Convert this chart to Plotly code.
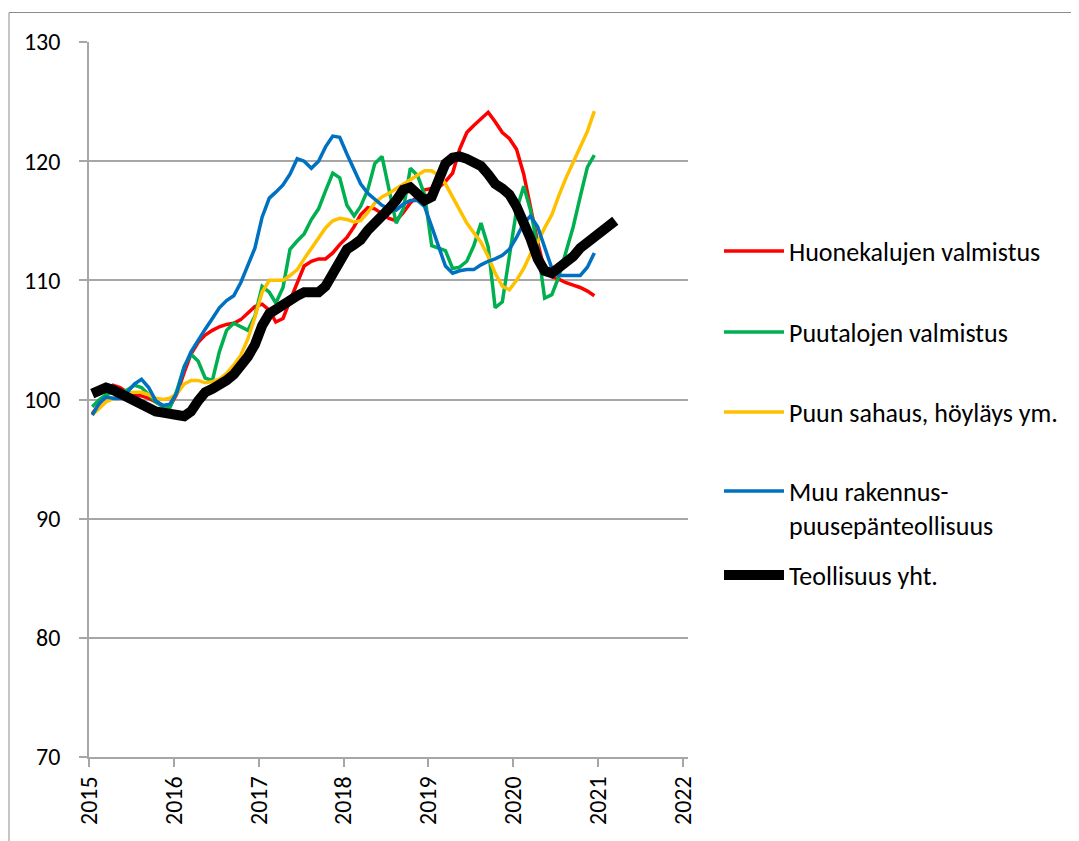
import plotly.graph_objects as go

# x categories: monthly observations (mid-month), Jan 2015 ... Mar 2021
months = [f"{2015 + i // 12}-{i % 12 + 1:02d}-15" for i in range(75)]

year_ticks = ["2015", "2016", "2017", "2018", "2019", "2020", "2021", "2022"]

huonekalut = [98.8, 99.7, 100.4, 101.2, 101.0, 100.6, 100.4, 100.3, 100.1, 99.8, 99.5, 99.4,
              100.5, 102.3, 103.8, 104.8, 105.4, 105.8, 106.1, 106.3, 106.4, 106.7, 107.3, 107.8,
              108.0, 107.5, 106.5, 106.8, 108.3, 109.7, 111.2, 111.6, 111.8, 111.8, 112.3, 113.0,
              113.6, 114.5, 115.5, 116.1, 116.0, 115.6, 115.2, 115.0, 115.7, 116.5, 117.1, 117.6,
              117.7, 117.8, 118.3, 119.0, 121.0, 122.4, 123.0, 123.6, 124.1, 123.3, 122.4, 121.9,
              121.0, 118.9, 116.0, 113.2, 110.8, 110.3, 110.1, 109.8, 109.6, 109.4, 109.1, 108.7]

puutalot = [99.4, 100.0, 100.4, 100.6, 100.6, 100.8, 101.2, 101.0, 100.4, 99.8, 99.4, 99.3,
            100.8, 102.8, 103.8, 103.2, 101.8, 101.6, 104.0, 105.8, 106.4, 106.1, 105.8, 107.0,
            109.5, 109.0, 108.1, 109.4, 112.6, 113.3, 113.9, 115.1, 116.0, 117.5, 119.0, 118.6,
            116.3, 115.4, 116.2, 117.6, 119.8, 120.4, 117.8, 114.8, 116.0, 119.4, 118.8, 117.2,
            112.9, 112.7, 112.5, 111.0, 111.1, 111.6, 112.9, 114.8, 112.8, 107.7, 108.2, 112.0,
            115.9, 117.9, 115.9, 112.8, 108.5, 108.8, 110.3, 112.4, 114.5, 117.0, 119.5, 120.5]

sahaus = [98.7, 99.3, 99.8, 100.1, 100.3, 100.5, 100.6, 100.6, 100.4, 100.1, 100.0, 100.1,
          100.5, 101.3, 101.6, 101.6, 101.4, 101.5, 101.7, 102.2, 102.9, 103.7, 105.1, 106.9,
          109.0, 110.0, 110.0, 110.0, 110.4, 110.9, 111.8, 112.7, 113.6, 114.4, 115.0, 115.2,
          115.1, 114.9, 115.0, 115.7, 116.5, 117.0, 117.3, 117.7, 118.1, 118.5, 118.9, 119.2,
          119.2, 118.8, 118.1, 117.0, 115.9, 114.8, 114.0, 113.2, 112.0, 110.6, 109.5, 109.2,
          110.0, 111.0, 112.2, 113.2, 114.4, 115.5, 117.1, 118.6, 119.9, 121.1, 122.5, 124.2]

muu_rakennus = [98.7, 99.7, 100.2, 100.1, 100.1, 100.6, 101.3, 101.7, 101.0, 99.9, 99.5, 99.6,
                100.6, 102.7, 104.0, 105.0, 105.9, 106.8, 107.7, 108.3, 108.7, 109.8, 111.2, 112.7,
                115.3, 116.9, 117.4, 118.0, 118.9, 120.2, 120.0, 119.4, 120.0, 121.2, 122.1, 122.0,
                120.6, 119.2, 118.1, 117.3, 116.8, 116.3, 116.0, 115.9, 116.4, 116.7, 116.7, 116.2,
                114.5, 112.7, 111.2, 110.6, 110.8, 110.9, 110.9, 111.3, 111.6, 111.8, 112.1, 112.6,
                113.6, 114.8, 115.4, 114.5, 112.8, 111.0, 110.4, 110.4, 110.4, 110.4, 111.1, 112.3]

teollisuus = [100.5, 100.7, 101.0, 100.8, 100.5, 100.3, 100.0, 99.7, 99.3, 99.0, 98.9, 98.9,
              98.7, 98.6, 99.0, 99.9, 100.6, 100.9, 101.2, 101.6, 102.1, 102.7, 103.6, 104.6,
              106.2, 107.2, 107.6, 107.9, 108.3, 108.7, 109.0, 108.9, 109.0, 109.5, 110.7, 111.8,
              112.6, 113.0, 113.4, 114.2, 114.9, 115.4, 116.0, 116.7, 117.6, 117.8, 117.2, 116.7,
              117.0, 118.6, 119.8, 120.3, 120.4, 120.2, 119.9, 119.6, 118.9, 118.1, 117.7, 117.2,
              116.2, 115.0, 113.5, 111.8, 110.8, 110.6, 111.0, 111.5, 112.0, 112.7, 113.2, 113.6,
              114.0, 114.5, 115.0]

series = [
    ("Huonekalujen valmistus", huonekalut, "#FF0000", 3.5, "legend"),
    ("Puutalojen valmistus", puutalot, "#00B050", 3.5, "legend2"),
    ("Puun sahaus, höyläys ym.", sahaus, "#FFC000", 3.5, "legend3"),
    ("Muu rakennus-<br>puusepänteollisuus", muu_rakennus, "#0070C0", 3.5, "legend4"),
    ("Teollisuus yht.", teollisuus, "#000000", 10, "legend5"),
]

FONT = "Carlito, Calibri, Lato, sans-serif"

fig = go.Figure()
for name, vals, color, width, leg in series:
    fig.add_trace(go.Scatter(
        x=months[:len(vals)], y=vals, mode="lines", name=name,
        line=dict(color=color, width=width), legend=leg,
    ))

# the page body has an 8px margin; work in page pixel coordinates
OFF = 8
W, H = 1079 - OFF, 841 - OFF
PL, PR, PT, PB = 89, 688, 42, 757          # plot area in page pixels
L, R, T, B = PL - OFF, W - (PR - OFF), PT - OFF, H - (PB - OFF)
pw, ph = W - L - R, H - T - B


def px(xp):
    return (xp - PL) / pw


def py(yp):
    return (PB - yp) / ph


leg_common = dict(
    xanchor="left", yanchor="middle", bgcolor="rgba(0,0,0,0)", borderwidth=0,
    font=dict(family=FONT, size=26, color="#000000"), itemwidth=60, valign="top",
)
legend_y = [251, 332, 412, 508, 575]
layout_legends = {}
for i, yy in enumerate(legend_y):
    key = "legend" if i == 0 else f"legend{i + 1}"
    layout_legends[key] = dict(leg_common, x=px(719), y=py(yy))

fig.update_layout(
    width=W, height=H,
    margin=dict(l=L, r=R, t=T, b=B),
    paper_bgcolor="white", plot_bgcolor="white",
    font=dict(family=FONT, size=24, color="#000000"),
    showlegend=True,
    **layout_legends,
    xaxis=dict(
        type="date",
        range=["2015-01-01", "2022-01-22"],
        tickvals=[f"{y}-01-01" for y in year_ticks],
        ticktext=year_ticks,
        tickangle=-90,
        showgrid=False, zeroline=False,
        showline=True, linecolor="#A6A6A6", linewidth=1.5,
        ticks="outside", ticklen=8, tickcolor="#A6A6A6", tickwidth=1.5,
        tickfont=dict(family=FONT, size=24, color="#000000"),
    ),
    yaxis=dict(
        range=[70, 130], dtick=10, tick0=70,
        showgrid=True, gridcolor="#A6A6A6", gridwidth=1.5,
        zeroline=False,
        showline=True, linecolor="#A6A6A6", linewidth=1.5,
        ticks="outside", ticklen=8, tickcolor="#A6A6A6", tickwidth=1.5,
        tickfont=dict(family=FONT, size=24, color="#000000"),
        ticklabelstandoff=14,
    ),
    shapes=[dict(
        type="rect", xref="paper", yref="paper",
        x0=px(OFF + 1), x1=px(1100), y0=py(900), y1=py(12.5),
        line=dict(color="#8C8C8C", width=1), fillcolor="rgba(0,0,0,0)", layer="below",
    )],
)

fig.write_html("out.html")
